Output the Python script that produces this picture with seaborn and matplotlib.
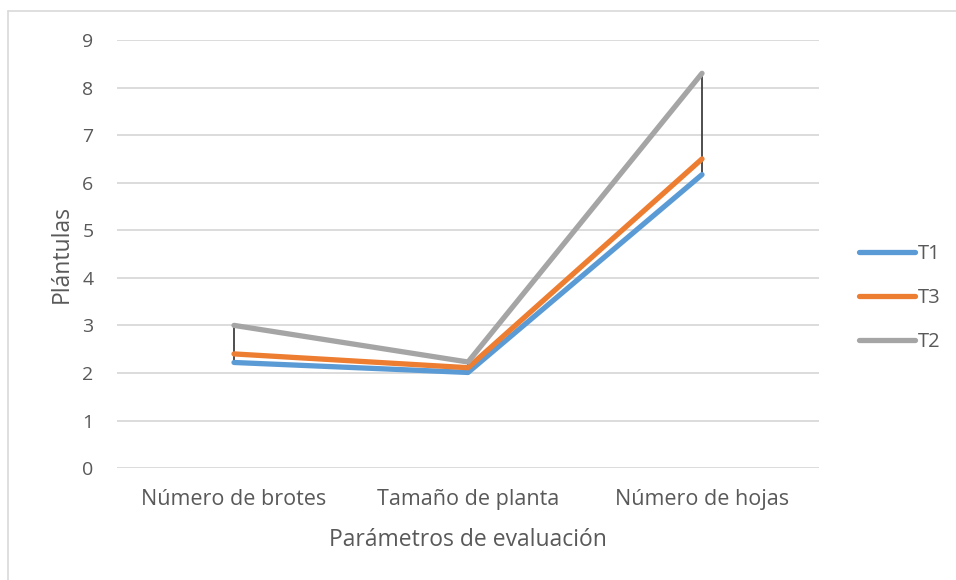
import matplotlib
matplotlib.use('Agg')
import matplotlib.pyplot as plt
from matplotlib.lines import Line2D
import seaborn as sns
import pandas as pd

# 데이터
categorias = ['Número de brotes', 'Tamaño de planta', 'Número de hojas']
series = ['T1', 'T3', 'T2']
t1 = [2.22, 2.01, 6.17]
t3 = [2.40, 2.11, 6.50]
t2 = [3.00, 2.23, 8.30]
colores = ['#5B9BD5', '#ED7D31', '#A5A5A5']

df = pd.DataFrame({
    'param': categorias * 3,
    'valor': t1 + t3 + t2,
    'serie': [s for s in series for _ in categorias],
})

sns.set_style('white')
plt.rcParams['font.family'] = ['Open Sans', 'DejaVu Sans']
gris = '#595959'

fig = plt.figure(figsize=(9.56, 5.8), dpi=100)
ax = fig.add_axes([0.1224, 0.193, 0.7343, 0.738])

# 고저선
xpos = range(len(categorias))
lo = [min(v) for v in zip(t1, t3, t2)]
hi = [max(v) for v in zip(t1, t3, t2)]
ax.vlines(list(xpos), lo, hi, color='#404040', lw=1.3, zorder=1)

sns.lineplot(data=df, x='param', y='valor', hue='serie', hue_order=series,
             palette=colores, sort=False, lw=3.8, ax=ax, legend=False,
             solid_capstyle='round', solid_joinstyle='round', zorder=2)

ax.set_xlim(-0.5, 2.5)
ax.set_ylim(0, 9)
ax.set_yticks(range(0, 10))
ax.yaxis.grid(True, color='#D9D9D9', lw=1.3)
ax.set_axisbelow(True)
for s in ax.spines.values():
    s.set_visible(False)
ax.tick_params(axis='y', length=0, labelsize=14, labelcolor=gris, pad=17)
ax.tick_params(axis='x', length=0, labelsize=15.5, labelcolor=gris, pad=15)

ax.set_xlabel('Parámetros de evaluación', fontsize=16.5, color=gris, labelpad=13)
ax.set_ylabel('Plántulas', fontsize=16.5, color=gris, labelpad=6)

handles = [Line2D([], [], color=c, lw=3.8, solid_capstyle='round') for c in colores]
ax.legend(handles, series, loc='center left', bbox_to_anchor=(1.031, 0.397),
          frameon=False, fontsize=14.5, labelcolor=gris, handlelength=2.8,
          handletextpad=0.15, labelspacing=1.2)

# 외곽선
fig.add_artist(Line2D([8 / 956, 8 / 956], [0, 1 - 11 / 580], color='#D9D9D9', lw=1.2))
fig.add_artist(Line2D([8 / 956, 1], [1 - 11 / 580, 1 - 11 / 580], color='#D9D9D9', lw=1.2))

fig.savefig('out.png', dpi=100)
